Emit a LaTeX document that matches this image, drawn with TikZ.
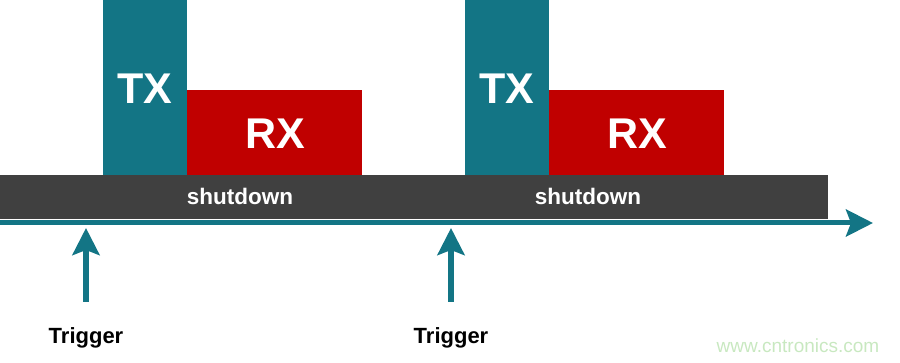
\documentclass[tikz,border=0pt]{standalone}
\usepackage{fontspec}
\setmainfont{Liberation Sans}
\usetikzlibrary{arrows.meta}
\definecolor{tealc}{HTML}{137585}
\definecolor{redc}{HTML}{C00000}
\definecolor{darkc}{HTML}{404040}
\definecolor{wmark}{HTML}{C8E8C0}
\tikzset{
  box/.style={draw=none, inner sep=0pt, outer sep=0pt, anchor=north west},
  txbox/.style={box, fill=tealc, minimum width=84pt, minimum height=175pt},
  rxbox/.style={box, fill=redc, minimum width=175pt, minimum height=85pt},
  bar/.style={box, fill=darkc, minimum width=828pt, minimum height=44pt},
  bigtxt/.style={text=white, font=\bfseries\fontsize{43}{43}\selectfont, anchor=base, inner sep=0pt},
  sdtxt/.style={text=white, font=\bfseries\fontsize{22.5}{22.5}\selectfont, anchor=base, inner sep=0pt},
  trigtxt/.style={text=black, font=\bfseries\fontsize{22}{22}\selectfont, anchor=base, inner sep=0pt},
  axisline/.style={draw=tealc, line width=5pt, -{Stealth[length=27pt, width=27pt, inset=5pt]}},
  trigarrow/.style={draw=tealc, line width=6pt, -{Stealth[length=27pt, width=27pt, inset=5pt]}},
}
\begin{document}
\begin{tikzpicture}[x=1pt, y=-1pt]
\useasboundingbox (0,0) rectangle (900,363);
% bar
\node[bar] (bar) at (0,175) {};
% first cycle
\node[txbox] (tx1) at (103,0) {};
\node[rxbox] (rx1) at (187,90) {};
\node[bigtxt] (tx1l) at (145,104) {TX};
\node[bigtxt] (rx1l) at (275,149) {RX};
\node[sdtxt] (sd1) at (240,205) {shutdown};
% second cycle
\node[txbox] (tx2) at (465,0) {};
\node[rxbox] (rx2) at (549,90) {};
\node[bigtxt] (tx2l) at (507,104) {TX};
\node[bigtxt] (rx2l) at (637,149) {RX};
\node[sdtxt] (sd2) at (588,205) {shutdown};
% axis
\coordinate (a0) at (0,223);
\coordinate (a1) at (873,223);
\draw[axisline] (a0) -- (a1);
% triggers
\coordinate (t1b) at (86,302);
\coordinate (t1t) at (86,228);
\coordinate (t2b) at (451,302);
\coordinate (t2t) at (451,228);
\draw[trigarrow] (t1b) -- (t1t);
\draw[trigarrow] (t2b) -- (t2t);
\node[trigtxt] (trig1) at (86,344) {Trigger};
\node[trigtxt] (trig2) at (451,344) {Trigger};
% watermark
\node[text=wmark, font=\fontsize{19}{19}\selectfont, anchor=base, inner sep=0pt] (wm) at (798,353) {www.cntronics.com};
\end{tikzpicture}
\end{document}
